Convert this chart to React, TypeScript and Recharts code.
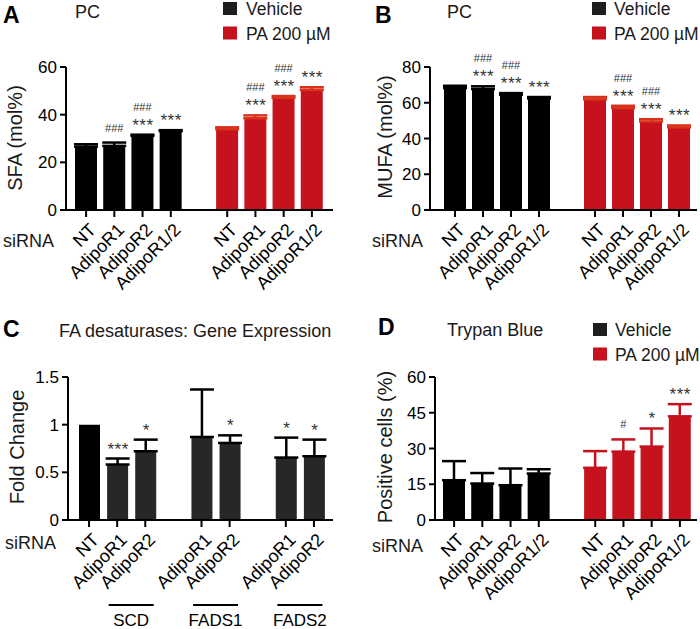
import React from "react";
import { BarChart, Bar, XAxis, YAxis, ErrorBar, LabelList, Cell } from "recharts";

const FONT = "'Liberation Sans', Arial, Helvetica, sans-serif";
const BLACK = "#000000";
const GREY = "#272727";
const RED = "#c6121d";
const RED_ERR = "#d8321c";
const MARK = "#333333";

// siRNA labels of one treatment group (vehicle or PA)
const sirnaLabels = ["NT", "AdipoR1", "AdipoR2", "AdipoR1/2"];

// A: PC, SFA (mol%)
const sfaVehicle = [26.6, 26.9, 31.1, 33.1];
const sfaVehicleErr = [1.0, 1.4, 0.5, 0.4];
const sfaPA = [33.9, 38.5, 47.1, 50.4];
const sfaPAErr = [0.8, 1.2, 0.7, 1.1];
const sfaVehicleStars = ["", "", "***", "***"];
const sfaVehicleHash = ["", "###", "###", ""];
const sfaPAStars = ["", "***", "***", "***"];
const sfaPAHash = ["", "###", "###", ""];

// B: PC, MUFA (mol%)
const mufaVehicle = [68.2, 67.7, 64.5, 62.4];
const mufaVehicleErr = [1.3, 1.5, 0.9, 0.8];
const mufaPA = [61.9, 57.0, 49.5, 46.2];
const mufaPAErr = [1.3, 1.3, 1.3, 1.1];
const mufaVehicleStars = ["", "***", "***", "***"];
const mufaVehicleHash = ["", "###", "###", ""];
const mufaPAStars = ["", "***", "***", "***"];
const mufaPAHash = ["", "###", "###", ""];

// C: FA desaturases gene expression (fold change)
const desatLabels = ["NT", "AdipoR1", "AdipoR2", "", "AdipoR1", "AdipoR2", "", "AdipoR1", "AdipoR2"];
const desatFold = [1.0, 0.582, 0.721, null, 0.871, 0.808, null, 0.655, 0.669];
const desatErr = [null, 0.063, 0.122, null, 0.498, 0.08, null, 0.209, 0.174];
const desatStars = ["", "***", "*", "", "", "*", "", "*", "*"];
const desatGenes: Record<number, string> = { 1: "SCD", 4: "FADS1", 7: "FADS2" };

// D: Trypan blue positive cells (%)
const trypanVehicle = [16.7, 15.3, 14.6, 19.5];
const trypanVehicleErr = [8.0, 4.4, 7.0, 1.8];
const trypanPA = [21.9, 28.7, 30.8, 43.5];
const trypanPAErr = [7.0, 5.1, 7.6, 5.1];
const trypanPAStars = ["", "", "*", "***"];
const trypanPAHash = ["", "#", "", ""];

type Row = {
  name: string;
  veh: number | null;
  vehErr: number[] | null;
  pa: number | null;
  paErr: number[] | null;
  star: string;
  hash: string;
};

function buildRows(
  veh: number[],
  vehErr: number[],
  pa: number[],
  paErr: number[],
  vehStars: string[] = [],
  vehHash: string[] = [],
  paStars: string[] = [],
  paHash: string[] = []
): Row[] {
  const rows: Row[] = [];
  sirnaLabels.forEach((name, i) =>
    rows.push({ name, veh: veh[i], vehErr: [0, vehErr[i]], pa: null, paErr: null, star: vehStars[i] || "", hash: vehHash[i] || "" })
  );
  rows.push({ name: "", veh: null, vehErr: null, pa: null, paErr: null, star: "", hash: "" });
  sirnaLabels.forEach((name, i) =>
    rows.push({ name, veh: null, vehErr: null, pa: pa[i], paErr: [0, paErr[i]], star: paStars[i] || "", hash: paHash[i] || "" })
  );
  return rows;
}

const sfaRows = buildRows(sfaVehicle, sfaVehicleErr, sfaPA, sfaPAErr, sfaVehicleStars, sfaVehicleHash, sfaPAStars, sfaPAHash);
const mufaRows = buildRows(mufaVehicle, mufaVehicleErr, mufaPA, mufaPAErr, mufaVehicleStars, mufaVehicleHash, mufaPAStars, mufaPAHash);
const trypanRows = buildRows(trypanVehicle, trypanVehicleErr, trypanPA, trypanPAErr, [], [], trypanPAStars, trypanPAHash);
const desatRows = desatLabels.map((name, i) => ({
  name,
  fold: desatFold[i],
  err: desatErr[i] == null ? null : [0, desatErr[i] as number],
  star: desatStars[i],
  hash: "",
}));

// significance marks above the error bar; the row is found by the bar's value
function sigLabel(rows: any[], valKey: string, errKey: string) {
  return (props: any) => {
    const vb = props.viewBox || {};
    const x = props.x ?? vb.x;
    const y = props.y ?? vb.y;
    const width = props.width ?? vb.width;
    const height = props.height ?? vb.height;
    const v = Array.isArray(props.value) ? props.value[1] : props.value;
    const r = rows.find((row) => row[valKey] != null && row[valKey] === v);
    if (!r || !height) return null;
    const err = r[errKey] ? r[errKey][1] : 0;
    const top = y - (err * height) / r[valKey];
    const cx = x + width / 2;
    return (
      <g>
        {r.star && (
          <text x={cx + 0.5} y={top - 4} textAnchor="middle" fontSize={17} letterSpacing={0.5} fill={MARK} fontFamily={FONT}>
            {r.star}
          </text>
        )}
        {r.hash && (
          <text x={cx} y={r.star ? top - 24 : top - 11} textAnchor="middle" fontSize={11} fill={MARK} fontFamily={FONT}>
            {r.hash}
          </text>
        )}
      </g>
    );
  };
}

// rotated siRNA tick labels; the gap slots get no tick
function makeTick(labels: string[], axisY: number, genes?: Record<number, string>, bandwidth = 28) {
  return (props: any) => {
    const { x, index } = props;
    const label = labels[index];
    if (!label) return null;
    const gene = genes ? genes[index] : undefined;
    const ax = x + 11;
    const ay = axisY + 21;
    return (
      <g>
        <line x1={x} y1={axisY} x2={x} y2={axisY + 7} stroke="#000" strokeWidth={2} />
        <text x={ax} y={ay} transform={`rotate(-45, ${ax}, ${ay})`} textAnchor="end" fontSize={18} fontFamily={FONT} fill="#000">
          {label}
        </text>
        {gene && (
          <g>
            <line x1={x + bandwidth / 2 - 22.5} x2={x + bandwidth / 2 + 22.5} y1={axisY + 85} y2={axisY + 85} stroke="#000" strokeWidth={2} />
            <text x={x + bandwidth / 2} y={axisY + 106} textAnchor="middle" fontSize={17} fontFamily={FONT} fill="#000">
              {gene}
            </text>
          </g>
        )}
      </g>
    );
  };
}

const axisStyle = { stroke: "#000", strokeWidth: 2 };
const yTickStyle = { fill: "#000", fontSize: 17, fontFamily: FONT };
const PLOT_BOTTOM = 210;

interface TreatmentProps {
  rows: Row[];
  height: number;
  yMax: number;
  yTicks: number[];
  margin: { top: number; right: number; left: number };
  padding: { left: number; right: number };
  errColor: string;
}

function TreatmentChart({ rows, height, yMax, yTicks, margin, padding, errColor }: TreatmentProps) {
  const tickLabels = rows.map((r) => r.name);
  const axisH = height - PLOT_BOTTOM - 3;
  return (
    <BarChart width={350} height={height} data={rows} margin={{ ...margin, bottom: 3 }}>
      <XAxis
        xAxisId="veh"
        dataKey="name"
        interval={0}
        padding={padding}
        height={axisH}
        tickLine={false}
        tickSize={0}
        tickMargin={0}
        axisLine={axisStyle}
        tick={makeTick(tickLabels, PLOT_BOTTOM)}
        allowDuplicatedCategory
      />
      <XAxis xAxisId="pa" dataKey="name" hide height={0} padding={padding} allowDuplicatedCategory />
      <YAxis
        domain={[0, yMax]}
        ticks={yTicks}
        width={50}
        tickSize={6}
        tickMargin={3}
        axisLine={axisStyle}
        tickLine={axisStyle}
        tick={yTickStyle}
      />
      <Bar xAxisId="veh" dataKey="veh" fill={BLACK} barSize={22} isAnimationActive={false}>
        <ErrorBar dataKey="vehErr" width={12} strokeWidth={2.5} stroke={BLACK} isAnimationActive={false} />
        <LabelList content={sigLabel(rows, "veh", "vehErr")} />
      </Bar>
      <Bar xAxisId="pa" dataKey="pa" fill={RED} barSize={22} isAnimationActive={false}>
        <ErrorBar dataKey="paErr" width={12} strokeWidth={2.5} stroke={errColor} isAnimationActive={false} />
        <LabelList content={sigLabel(rows, "pa", "paErr")} />
      </Bar>
    </BarChart>
  );
}

function DesaturaseChart() {
  const height = 319;
  return (
    <BarChart width={350} height={height} data={desatRows} margin={{ top: 67, right: 17, left: 18, bottom: 1 }}>
      <XAxis
        dataKey="name"
        interval={0}
        padding={{ left: 7, right: 5 }}
        height={height - PLOT_BOTTOM - 1}
        tickLine={false}
        tickSize={0}
        tickMargin={0}
        axisLine={axisStyle}
        tick={makeTick(desatLabels, PLOT_BOTTOM, desatGenes, 28.1)}
        allowDuplicatedCategory
      />
      <YAxis
        domain={[0, 1.5]}
        ticks={[0, 0.5, 1, 1.5]}
        width={50}
        tickSize={6}
        tickMargin={3}
        axisLine={axisStyle}
        tickLine={axisStyle}
        tick={yTickStyle}
      />
      <Bar dataKey="fold" barSize={21} isAnimationActive={false}>
        {desatRows.map((r, i) => (
          <Cell key={i} fill={i === 0 ? BLACK : GREY} />
        ))}
        <ErrorBar dataKey="err" width={12} strokeWidth={2.5} stroke="#000" isAnimationActive={false} />
        <LabelList content={sigLabel(desatRows, "fold", "err")} />
      </Bar>
    </BarChart>
  );
}

interface PanelTextProps {
  letter: [string, number, number];
  title: [string, number, number];
  legend?: { x: number; y: number; textX: number };
  yLabel: [string, number, number];
  siRNA: [number, number];
}

const legendItems = [
  { label: "Vehicle", color: "#1e1e1e" },
  { label: "PA 200 µM", color: RED },
];

function PanelText({ letter, title, legend, yLabel, siRNA }: PanelTextProps) {
  return (
    <svg width={350} height={319} style={{ position: "absolute", left: 0, top: 0, pointerEvents: "none" }}>
      <text x={letter[1]} y={letter[2]} fontSize={23} fontWeight="bold" fontFamily={FONT} fill="#000">
        {letter[0]}
      </text>
      <text x={title[1]} y={title[2]} fontSize={18} fontFamily={FONT} fill="#1a1a1a">
        {title[0]}
      </text>
      {legend &&
        legendItems.map((it, i) => (
          <g key={it.label}>
            <rect x={legend.x} y={legend.y + i * 24.5} width={14} height={13} fill={it.color} />
            <text x={legend.textX} y={legend.y + 13 + i * 24.5} fontSize={17.5} fontFamily={FONT} fill="#1a1a1a">
              {it.label}
            </text>
          </g>
        ))}
      <text
        x={yLabel[1]}
        y={yLabel[2]}
        transform={`rotate(-90, ${yLabel[1]}, ${yLabel[2]})`}
        textAnchor="middle"
        dominantBaseline="central"
        fontSize={20}
        fontFamily={FONT}
        fill="#1a1a1a"
      >
        {yLabel[0]}
      </text>
      <text x={siRNA[0]} y={siRNA[1]} fontSize={18} fontFamily={FONT} fill="#1a1a1a">
        siRNA
      </text>
    </svg>
  );
}

function Panel({ left, top, height, children }: { left: number; top: number; height: number; children: React.ReactNode }) {
  return <div style={{ position: "absolute", left, top, width: 350, height }}>{children}</div>;
}

export default function App() {
  return (
    <div style={{ position: "absolute", left: 0, top: 0, width: 700, height: 629, background: "#fff" }}>
      <Panel left={0} top={0} height={310}>
        <TreatmentChart
          rows={sfaRows}
          height={310}
          yMax={60}
          yTicks={[0, 20, 40, 60]}
          margin={{ top: 67, right: 17, left: 16 }}
          padding={{ left: 6, right: 7 }}
          errColor={RED_ERR}
        />
        <PanelText
          letter={["A", 3, 23]}
          title={["PC", 75, 18]}
          legend={{ x: 223, y: 2, textX: 246 }}
          yLabel={["SFA (mol%)", 15, 138]}
          siRNA={[3, 247]}
        />
      </Panel>
      <Panel left={350} top={0} height={310}>
        <TreatmentChart
          rows={mufaRows}
          height={310}
          yMax={80}
          yTicks={[0, 20, 40, 60, 80]}
          margin={{ top: 67, right: 3, left: 30 }}
          padding={{ left: 11, right: 4 }}
          errColor={RED_ERR}
        />
        <PanelText
          letter={["B", 25, 23]}
          title={["PC", 97, 18]}
          legend={{ x: 242, y: 2, textX: 264 }}
          yLabel={["MUFA (mol%)", 35, 137]}
          siRNA={[22, 247]}
        />
      </Panel>
      <Panel left={0} top={310} height={319}>
        <DesaturaseChart />
        <PanelText
          letter={["C", 3, 27]}
          title={["FA desaturases: Gene Expression", 59, 27]}
          yLabel={["Fold Change", 17, 137]}
          siRNA={[5, 239]}
        />
      </Panel>
      <Panel left={350} top={310} height={319}>
        <TreatmentChart
          rows={trypanRows}
          height={319}
          yMax={60}
          yTicks={[0, 15, 30, 45, 60]}
          margin={{ top: 67, right: 3, left: 35 }}
          padding={{ left: 5, right: 3 }}
          errColor={RED}
        />
        <PanelText
          letter={["D", 28, 25]}
          title={["Trypan Blue", 97, 26]}
          legend={{ x: 243, y: 13, textX: 265 }}
          yLabel={["Positive cells (%)", 35, 137]}
          siRNA={[22, 242]}
        />
      </Panel>
    </div>
  );
}
